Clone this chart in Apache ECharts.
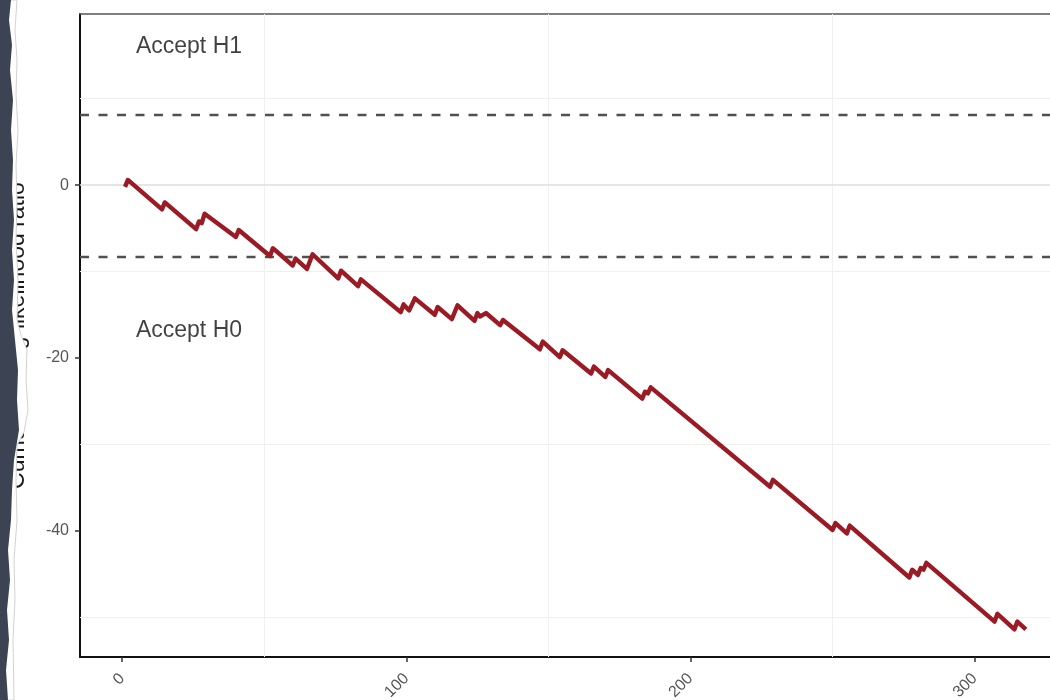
<!DOCTYPE html>
<html>
<head>
<meta charset="utf-8">
<script src="https://cdn.jsdelivr.net/npm/echarts@6/dist/echarts.min.js"></script>
<style>
  html, body { margin: 0; padding: 0; background: #fff; }
  #chart { width: 1050px; height: 700px; }
</style>
</head>
<body>
<div id="chart"></div>
<script>
// kink points of the cumulative LLR path (straight runs between them)
const trial = [1, 2, 14, 15, 26, 27, 28, 29, 40, 41, 52, 53, 60, 61, 65, 67, 76, 77, 83, 84,
  98, 99, 101, 103, 110, 111, 116, 118, 124, 125, 126, 128, 133, 134, 147, 148, 154, 155,
  165, 166, 170, 171, 183, 184, 185, 186, 228, 229, 250, 251, 255, 256,
  277, 278, 280, 281, 282, 283, 307, 308, 314, 315, 318];
const cumLLR = [-0.2, 0.6, -2.8, -2.0, -5.1, -4.2, -4.4, -3.3, -6.0, -5.2, -8.2, -7.3, -9.3, -8.5, -9.7, -8.0, -10.8, -9.9, -11.7, -10.9,
  -14.7, -13.8, -14.5, -13.1, -15.0, -14.1, -15.5, -13.9, -15.7, -14.8, -15.2, -14.8, -16.2, -15.6, -19.0, -18.1, -19.9, -19.1,
  -21.8, -21.0, -22.2, -21.4, -24.7, -23.9, -24.1, -23.4, -34.9, -34.1, -39.9, -39.1, -40.3, -39.4,
  -45.4, -44.5, -45.1, -44.3, -44.5, -43.7, -50.5, -49.6, -51.4, -50.5, -51.4];

const bounds = [8.2, -8.3];          // decision thresholds
const xTicks = [0, 100, 200, 300];
const yTicks = [0, -20, -40];
const gridX = [50, 150, 250];        // minor grid only
const gridY = [10, -10, -30, -50];
const noteText = ['Accept H1', 'Accept H0'];
const noteX = [23.5, 23.5];
const noteY = [16.0, -16.8];

// the panel is cut off at the right edge of the picture
const xMin = -14.85, xMax = 326.5;

const chart = echarts.init(document.getElementById('chart'));

const gridLines = gridY.map(v => ({ yAxis: v }))
  .concat(gridX.map(v => ({ xAxis: v })))
  .concat([{ yAxis: 0, lineStyle: { color: '#dcdcdc', width: 1.5 } }])
  .concat(bounds.map(v => ({ yAxis: v, lineStyle: { color: '#505050', width: 2.4, type: [9, 9.5] } })));

const option = {
  animation: false,
  backgroundColor: '#fff',
  textStyle: { fontFamily: 'Liberation Sans, Arial, sans-serif' },
  grid: { left: 80, top: 14, right: 0, bottom: 43, outerBoundsMode: 'none', containLabel: false },
  xAxis: [
    {
      type: 'value',
      min: xMin, max: xMax,
      axisLine: { show: true, onZero: false, lineStyle: { color: '#111', width: 2 } },
      axisTick: { show: true, customValues: xTicks, length: 5, lineStyle: { color: '#333', width: 1.5 } },
      axisLabel: { customValues: xTicks, rotate: 45, margin: 19, fontSize: 16, color: '#555' },
      splitLine: { show: false }
    },
    {
      // top panel border
      type: 'value',
      position: 'top',
      min: xMin, max: xMax,
      axisLine: { show: true, onZero: false, lineStyle: { color: '#555', width: 1.5 } },
      axisTick: { show: false },
      axisLabel: { show: false },
      splitLine: { show: false }
    }
  ],
  yAxis: {
    type: 'value',
    min: -54.6, max: 19.8,
    name: 'Cumulative log-likelihood ratio',
    nameLocation: 'middle',
    nameGap: 51,
    nameTextStyle: { fontSize: 23, color: '#1a1a1a' },
    axisLine: { show: true, onZero: false, lineStyle: { color: '#111', width: 2 } },
    axisTick: { show: true, customValues: yTicks, length: 5, lineStyle: { color: '#333', width: 1.5 } },
    axisLabel: { customValues: yTicks, margin: 11, fontSize: 16, color: '#555' },
    splitLine: { show: false }
  },
  series: [
    {
      // background guides: grid, zero line, thresholds
      type: 'line',
      data: [],
      silent: true,
      markLine: {
        silent: true,
        z: 1,
        symbol: 'none',
        label: { show: false },
        lineStyle: { color: '#f0f0f0', width: 1, type: 'solid' },
        data: gridLines
      }
    },
    {
      type: 'line',
      z: 3,
      data: trial.map((t, i) => [t, cumLLR[i]]),
      symbol: 'none',
      lineStyle: { color: '#9b1b25', width: 4.4, join: 'round' }
    },
    {
      type: 'scatter',
      z: 4,
      silent: true,
      symbolSize: 0,
      data: noteText.map((s, i) => [noteX[i], noteY[i], s]),
      label: {
        show: true,
        position: [0, 0],
        align: 'center',
        verticalAlign: 'middle',
        fontSize: 23,
        color: '#111',
        formatter: p => p.value[2]
      }
    }
  ],
  graphic: [
    {
      // torn paper edge on the left
      type: 'polygon',
      z: 100,
      silent: true,
      shape: { points: [[0, 0], [17, 0], [15, 30], [17, 60], [16, 95], [18, 130], [16, 165], [17, 200],
        [16, 240], [18, 280], [17, 320], [21, 335], [27, 350], [26, 380], [28, 410], [24, 432],
        [17, 445], [16, 480], [17, 520], [14, 560], [15, 600], [13, 640], [14, 700], [0, 700]] },
      style: { fill: '#fff', stroke: '#d2d2d2', lineWidth: 1 }
    },
    {
      type: 'polygon',
      z: 101,
      silent: true,
      shape: { points: [[0, 0], [11, 0], [9, 20], [12, 45], [10, 70], [13, 100], [11, 130], [13, 160],
        [12, 190], [14, 220], [12, 250], [14, 280], [12, 310], [15, 340], [18, 370], [17, 400],
        [19, 430], [14, 460], [12, 490], [11, 520], [8, 550], [10, 580], [7, 610], [9, 640],
        [6, 670], [8, 700], [0, 700]] },
      style: { fill: '#3c4353' }
    }
  ]
};

chart.setOption(option);
</script>
</body>
</html>
